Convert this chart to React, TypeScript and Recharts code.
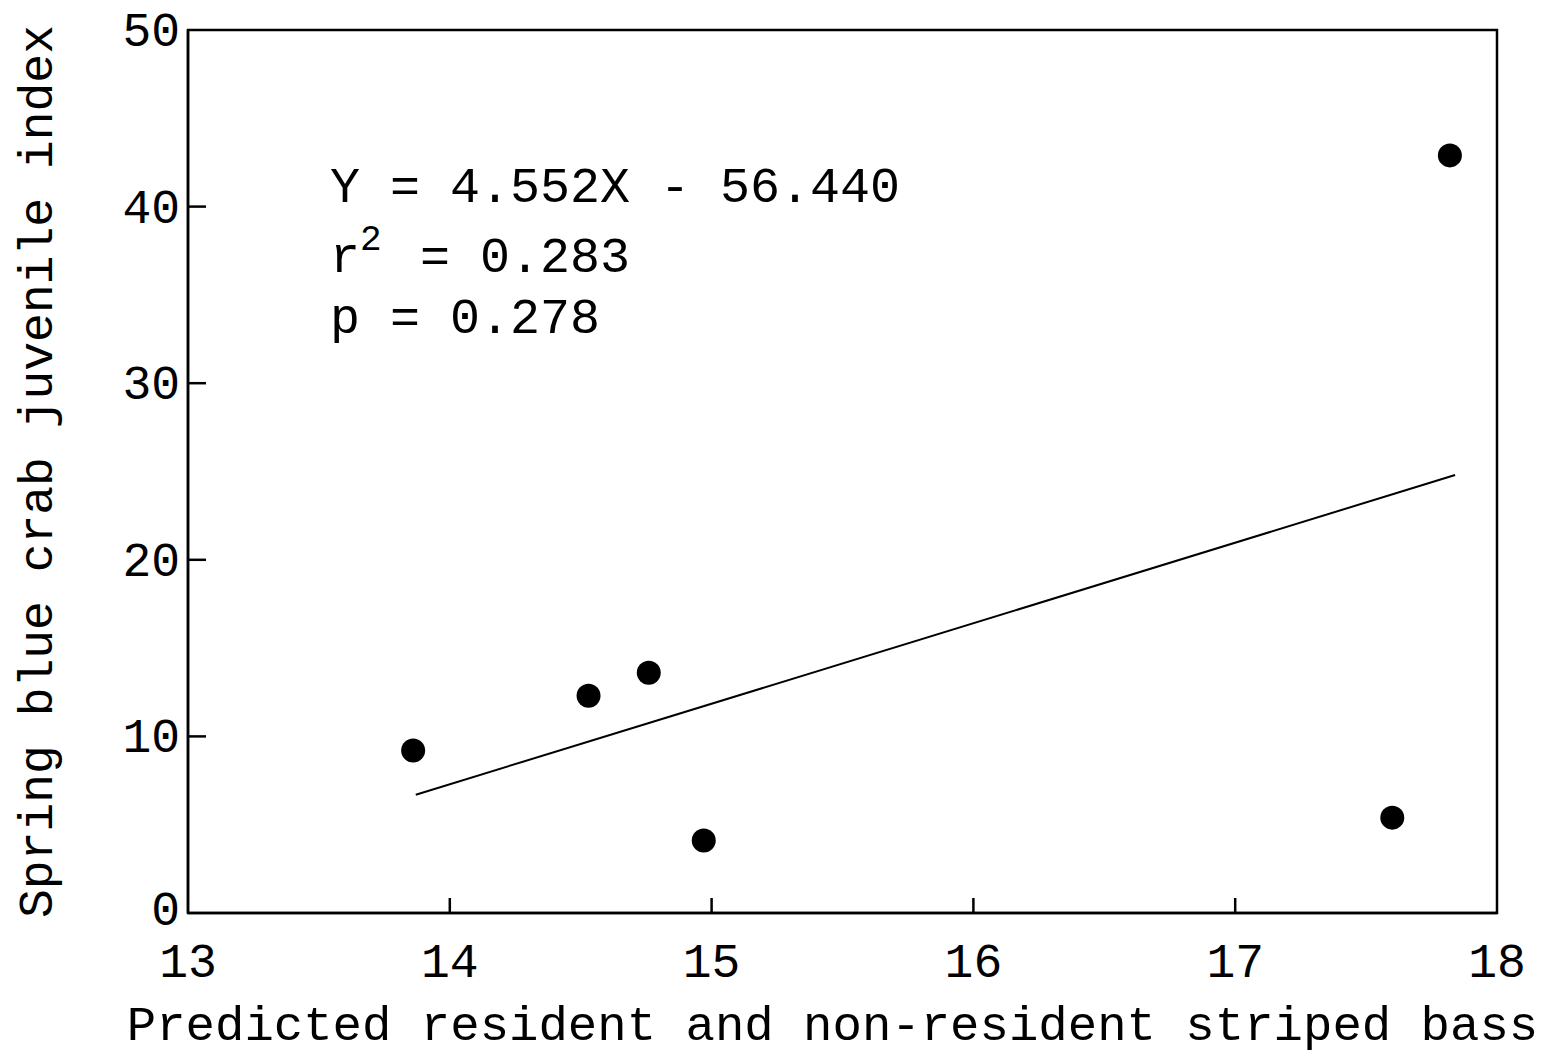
import {
  ComposedChart,
  Customized,
  Line,
  ReferenceArea,
  Scatter,
  XAxis,
  YAxis,
} from "recharts";

const bassIndex = [13.86, 14.53, 14.76, 14.97, 17.6, 17.82];
const crabIndex = [9.2, 12.3, 13.6, 4.1, 5.4, 42.9];
const fitX = [13.87, 17.84];
const fitY = [6.7, 24.8];
const xTicks = [13, 14, 15, 16, 17, 18];
const yTicks = [0, 10, 20, 30, 40, 50];

const points = bassIndex.map((x, i) => ({ x, y: crabIndex[i] }));
const fitLine = fitX.map((x, i) => ({ x, y: fitY[i] }));

const FONT = "'Liberation Mono', 'DejaVu Sans Mono', monospace";

function XTick(props: any) {
  const { x, y, payload } = props;
  const edge = payload.value === 13 || payload.value === 18;
  return (
    <g>
      {!edge && <line x1={x} y1={y} x2={x} y2={y - 15} stroke="#000" strokeWidth={2.5} />}
      <text x={x} y={y + 64} textAnchor="middle" fontFamily={FONT} fontSize={48} fill="#000">
        {payload.value}
      </text>
    </g>
  );
}

function YTick(props: any) {
  const { x, y, payload } = props;
  const edge = payload.value === 0 || payload.value === 50;
  return (
    <g>
      {!edge && <line x1={x} y1={y} x2={x + 18} y2={y} stroke="#000" strokeWidth={2.5} />}
      <text x={x - 8} y={y + (payload.value === 0 ? 12 : 16)} textAnchor="end" fontFamily={FONT} fontSize={48} fill="#000">
        {payload.value}
      </text>
    </g>
  );
}

function Stats() {
  const t = { fontFamily: FONT, fontSize: 50, fill: "#000" };
  return (
    <g>
      <text x={330} y={202} {...t}>Y = 4.552X - 56.440</text>
      <text x={330} y={272} {...t}>
        r
        <tspan dy={-22} fontSize={36}>2</tspan>
        <tspan x={420} dy={22}>= 0.283</tspan>
      </text>
      <text x={330} y={333} {...t}>p = 0.278</text>
    </g>
  );
}

function XTitle(props: any) {
  const { viewBox } = props;
  const cx = viewBox.x + viewBox.width / 2 - 10;
  return (
    <text x={cx} y={1040} textAnchor="middle" fontFamily={FONT} fontSize={49} fill="#000">
      Predicted resident and non-resident striped bass
    </text>
  );
}

function YTitle(props: any) {
  const { viewBox } = props;
  const cy = viewBox.y + viewBox.height / 2;
  return (
    <text
      x={52}
      y={cy}
      transform={`rotate(-90 52 ${cy})`}
      textAnchor="middle"
      fontFamily={FONT}
      fontSize={48}
      fill="#000"
    >
      Spring blue crab juvenile index
    </text>
  );
}

export default function App() {
  return (
    <div style={{ position: "absolute", left: 0, top: 0, background: "#fff" }}>
      <ComposedChart
        width={1553}
        height={1056}
        margin={{ top: 30, right: 56, left: 0, bottom: 0 }}
      >
        <XAxis
          dataKey="x"
          type="number"
          domain={[13, 18]}
          ticks={xTicks}
          tickSize={0}
          tickMargin={0}
          tickLine={false}
          tick={<XTick />}
          height={143}
          axisLine={{ stroke: "#000", strokeWidth: 2.5 }}
          label={<XTitle />}
        />
        <YAxis
          dataKey="y"
          type="number"
          domain={[0, 50]}
          ticks={yTicks}
          tickSize={0}
          tickMargin={0}
          tickLine={false}
          tick={<YTick />}
          width={188}
          axisLine={{ stroke: "#000", strokeWidth: 2.5 }}
          label={<YTitle />}
        />
        <ReferenceArea
          x1={13}
          x2={18}
          y1={0}
          y2={50}
          fill="none"
          stroke="#000"
          strokeWidth={2.5}
          ifOverflow="visible"
        />
        <Line
          data={fitLine}
          dataKey="y"
          type="linear"
          stroke="#000"
          strokeWidth={2}
          dot={false}
          activeDot={false}
          isAnimationActive={false}
        />
        <Scatter
          data={points}
          dataKey="y"
          fill="#000"
          shape={(p: any) => <circle cx={p.cx} cy={p.cy} r={12} fill="#000" />}
          isAnimationActive={false}
        />
        <Customized component={<Stats />} />
      </ComposedChart>
    </div>
  );
}
